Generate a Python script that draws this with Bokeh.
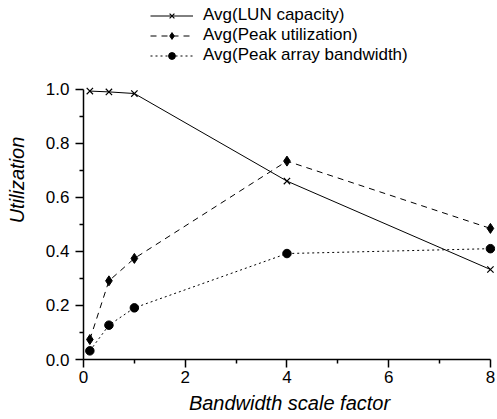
from bokeh.plotting import figure
from bokeh.models import Range1d, FixedTicker, Legend, LegendItem, CustomJSTickFormatter
from bokeh.embed import file_html
from bokeh.resources import INLINE

# Data
scale_factor = [0.125, 0.5, 1, 4, 8]
lun_capacity = [0.993, 0.99, 0.984, 0.66, 0.333]
peak_utilization = [0.074, 0.291, 0.374, 0.734, 0.485]
peak_array_bw = [0.032, 0.127, 0.191, 0.392, 0.41]

series_names = ["Avg(LUN capacity)", "Avg(Peak utilization)", "Avg(Peak array bandwidth)"]
x_ticks = [0, 2, 4, 6, 8]
x_minor = [1, 3, 5, 7]
y_ticks = [0.0, 0.2, 0.4, 0.6, 0.8, 1.0]
y_minor = [0.1, 0.3, 0.5, 0.7, 0.9]

FONT = "Liberation Sans"

p = figure(frame_width=412, frame_height=359,
           x_range=Range1d(0, 8.1), y_range=Range1d(0, 359 / 270.3),
           output_backend="svg", toolbar_location=None,
           min_border_left=83, min_border_top=0, min_border_right=2, min_border_bottom=60)
p.outline_line_color = None
p.xgrid.visible = False
p.ygrid.visible = False
p.background_fill_color = "white"
p.border_fill_color = "white"

for ax, ticks, minor, bounds in ((p.xaxis[0], x_ticks, x_minor, (0, 8)),
                                  (p.yaxis[0], y_ticks, y_minor, (0, 1))):
    ax.ticker = FixedTicker(ticks=ticks, minor_ticks=minor)
    ax.bounds = bounds
    ax.axis_line_width = 1.5
    ax.axis_line_color = "black"
    ax.major_tick_line_color = "black"
    ax.major_tick_line_width = 1.5
    ax.minor_tick_line_color = "black"
    ax.minor_tick_line_width = 1.5
    ax.major_tick_in = 0
    ax.major_tick_out = 8
    ax.minor_tick_in = 0
    ax.minor_tick_out = 4
    ax.major_label_text_font = FONT
    ax.major_label_text_font_size = "17px"
    ax.major_label_text_color = "black"
    ax.axis_label_text_font = FONT
    ax.axis_label_text_font_size = "20px"
    ax.axis_label_text_font_style = "italic"
    ax.axis_label_text_color = "black"

p.xaxis[0].major_label_standoff = 3
p.yaxis[0].major_label_standoff = 6
p.xaxis[0].axis_label = "Bandwidth scale factor"
p.yaxis[0].axis_label = "Utilization"
p.xaxis[0].axis_label_standoff = 6
p.yaxis[0].axis_label_standoff = 15
p.yaxis[0].formatter = CustomJSTickFormatter(code="return tick.toFixed(1);")

l1 = p.line(scale_factor, lun_capacity, line_color="black", line_width=1)
m1 = p.scatter(scale_factor, lun_capacity, marker="x", size=9, line_color="black", line_width=1.2)

l2 = p.line(scale_factor, peak_utilization, line_color="black", line_width=1, line_dash="6 5")
m2 = p.scatter(scale_factor, peak_utilization, marker="diamond", size=10,
               fill_color="black", line_color="black")

l3 = p.line(scale_factor, peak_array_bw, line_color="black", line_width=1, line_dash="2 3")
m3 = p.scatter(scale_factor, peak_array_bw, marker="circle", size=8.5,
               fill_color="black", line_color="black")

legend = Legend(items=[
    LegendItem(label=series_names[0], renderers=[l1, m1]),
    LegendItem(label=series_names[1], renderers=[l2, m2]),
    LegendItem(label=series_names[2], renderers=[l3, m3]),
], location=(67, 294))
legend.glyph_width = 43
legend.glyph_height = 17
legend.label_height = 17
legend.label_standoff = 10
legend.spacing = 0
legend.padding = 0
legend.margin = 0
legend.border_line_color = None
legend.background_fill_alpha = 0
legend.label_text_font = FONT
legend.label_text_font_size = "17px"
legend.label_text_color = "black"
p.add_layout(legend, "center")

open("out.html", "w").write(file_html(p, INLINE))
